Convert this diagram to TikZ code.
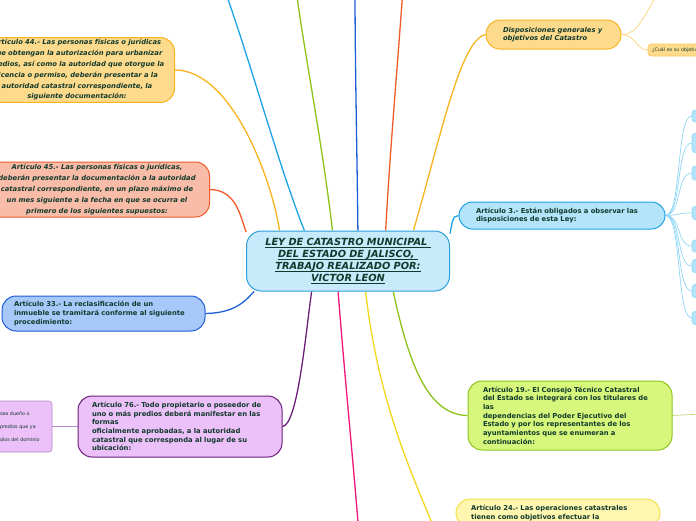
\documentclass[tikz,border=0pt]{standalone}
\usepackage{fontspec}
\setmainfont{DejaVu Sans}
\usetikzlibrary{positioning, backgrounds}

\definecolor{txt}{HTML}{123A2C}
\definecolor{cenfill}{HTML}{C8EAFB}
\definecolor{cendraw}{HTML}{2A9FDC}
\definecolor{ambfill}{HTML}{FEDA8C}
\definecolor{ambdraw}{HTML}{F8B41E}
\definecolor{salfill}{HTML}{F8BCA8}
\definecolor{saldraw}{HTML}{F15A29}
\definecolor{bluefill}{HTML}{A8C8FA}
\definecolor{bluedraw}{HTML}{1F5FD6}
\definecolor{lilfill}{HTML}{ECC0F8}
\definecolor{lildraw}{HTML}{6B1F7A}
\definecolor{lilchild}{HTML}{B98CCB}
\definecolor{skyfill}{HTML}{B4E4FA}
\definecolor{skydraw}{HTML}{1CA3E5}
\definecolor{skychild}{HTML}{8FD6F5}
\definecolor{limefill}{HTML}{D7F77C}
\definecolor{limedraw}{HTML}{8EC31F}
\definecolor{yelfill}{HTML}{FFF6B0}
\definecolor{yeldraw}{HTML}{F4E04A}
\definecolor{pinkline}{HTML}{F0157A}
\definecolor{greenline}{HTML}{8CC21A}
\definecolor{yelline}{HTML}{F2D81E}

% thin underline close to the baseline
\newcommand\ulin[1]{\leavevmode{\setbox0\hbox{#1}\rlap{\vrule height -1.1pt depth 1.8pt width \wd0}\box0}}

\begin{document}
\begin{tikzpicture}[x=1pt, y=-1pt,
                central/.style={draw=cendraw, fill=cenfill, rectangle, rounded corners=15pt, line width=1pt, align=center, text=txt, text width=191pt, inner xsep=6pt, minimum height=60pt, font=\bfseries\itshape\fontsize{9.8}{12}\selectfont},
                topic/.style={rectangle, rounded corners=14pt, line width=1pt, align=left, text=txt, inner ysep=2pt, font=\bfseries\fontsize{6.8}{8.7}\selectfont},
                itopic/.style={topic, align=center, font=\bfseries\itshape\fontsize{6.8}{10.8}\selectfont},
                leaf/.style={rectangle, rounded corners=3pt, line width=0.6pt, align=left, text=txt, inner ysep=1pt, font=\fontsize{4.8}{13}\selectfont},
                branch/.style={line width=1.3pt},
                twig/.style={line width=0.7pt}
            ]
            \useasboundingbox (0,0) rectangle (696,520);
            \clip (0,0) rectangle (696,520);

            % loose ends outside the frame
            \coordinate (topblue) at (224,-12);
            \coordinate (topgreen) at (296,-12);
            \coordinate (topdark) at (355,-12);
            \coordinate (topred) at (403,-12);
            \coordinate (botpink) at (359,535);
            \coordinate (botyellow) at (437,535);
            \coordinate (dispup) at (662,-12);
            \coordinate (a19out) at (720,413);

            % Nodes
            \node[central] (ley) at (348,261) {\ulin{LEY DE CATASTRO MUNICIPAL\ }\\ \ulin{DEL ESTADO DE JALISCO,\ }\\ \ulin{TRABAJO REALIZADO POR:}\\ \ulin{VICTOR LEON}};

            \node[itopic, draw=ambdraw, fill=ambfill, text width=183pt, inner xsep=6pt, minimum height=64pt] (art44) at (77,70) {Artículo 44.- Las personas físicas o jurídicas\\ que obtengan la autorización para urbanizar\\ predios, así como la autoridad que otorgue la\\ licencia o permiso, deberán presentar a la\\ autoridad catastral correspondiente, la\\ siguiente documentación:};
            \node[itopic, draw=saldraw, fill=salfill, text width=213pt, inner xsep=6pt, minimum height=55pt] (art45) at (97,189.5) {Artículo 45.- Las personas físicas o jurídicas,\\ deberán presentar la documentación a la autoridad\\ catastral correspondiente, en un plazo máximo de\\ un mes siguiente a la fecha en que se ocurra el\\ primero de los siguientes supuestos:};
            \node[topic, draw=bluedraw, fill=bluefill, text width=179pt, inner xsep=12pt, minimum height=35pt] (art33) at (103.5,313.5) {Artículo 33.- La reclasificación de un\\ inmueble se tramitará conforme al siguiente\\ procedimiento:};
            \node[topic, draw=lildraw, fill=lilfill, text width=176pt, inner xsep=14pt, minimum height=61pt] (art76) at (180,426.5) {Artículo 76.- Todo propietario o poseedor de\\ uno o más predios deberá manifestar en las\\ formas\\ oficialmente aprobadas, a la autoridad\\ catastral que corresponda al lugar de su\\ ubicación:};
            \node[leaf, draw=lilchild, fill=lilfill, text width=48pt, inner xsep=4pt, minimum height=51pt] (a76sub) at (24,426.5) {sea dueño o\\ predios que ya\\ dios del dominio};

            \node[topic, font=\bfseries\itshape\fontsize{6.8}{8.7}\selectfont, draw=ambdraw, fill=ambfill, text width=101pt, inner xsep=17pt, minimum height=29pt] (disp) at (553.5,34.5) {Disposiciones generales y\\ objetivos del Catastro};
            \node[leaf, draw=ambdraw!70, fill=ambfill, text width=74pt, inner xsep=4pt, minimum height=12pt, font=\fontsize{4.8}{6}\selectfont] (dispq) at (689,50) {¿Cuál es su objetivo?};

            \node[topic, draw=skydraw, fill=skyfill, text width=172pt, inner xsep=17pt, minimum height=27pt, rounded corners=13.5pt] (art3) at (562,215.5) {Artículo 3.- Están obligados a observar las\\ disposiciones de esta Ley:};
            \node[topic, draw=limedraw, fill=limefill, text width=174pt, inner xsep=15pt, minimum height=69pt] (art19) at (570,415.5) {Artículo 19.- El Consejo Técnico Catastral\\ del Estado se integrará con los titulares de\\ las\\ dependencias del Poder Ejecutivo del\\ Estado y por los representantes de los\\ ayuntamientos que se enumeran a\\ continuación:};
            \node[topic, draw=yeldraw, fill=yelfill, text width=174pt, inner xsep=15pt, minimum height=28pt] (art24) at (558,513) {Artículo 24.- Las operaciones catastrales\\ tienen como objetivos efectuar la};

            % leaves of Articulo 3
            \foreach \i/\yy/\hh in {1/116/12, 2/143/19, 3/173/14, 4/213/13, 5/246/12, 6/266/13, 7/291/13, 8/318/13}
                \node[leaf, draw=skychild, fill=skyfill, minimum width=40pt, minimum height=\hh pt] (a3leaf\i) at (712,\yy) {};

            % Edges
            \begin{scope}[on background layer]
            \draw[branch, skydraw] (ley.145) .. controls (280,170) and (250,60) .. (topblue);
            \draw[branch, greenline] (ley.117) .. controls (322,140) and (302,40) .. (topgreen);
            \draw[branch, bluedraw] (ley.72) .. controls (357,150) and (355,60) .. (topdark);
            \draw[branch, saldraw] (ley.39) .. controls (390,150) and (398,60) .. (topred);
            \draw[branch, ambdraw] (ley.25) .. controls (440,140) and (460,40) .. (disp.west);
            \draw[branch, skydraw] (ley.15) .. controls (452,225) and (452,215) .. (art3.west);
            \draw[branch, ambdraw] (art44.east) .. controls (232,70) and (272,180) .. (ley.156);
            \draw[branch, saldraw] (art45.east) .. controls (236,190) and (240,215) .. (ley.164);
            \draw[branch, bluedraw] (art33.east) .. controls (236,313) and (246,300) .. (ley.198);
            \draw[branch, lildraw] (art76.east) .. controls (298,425) and (306,330) .. (ley.220);
            \draw[branch, pinkline] (ley.252) .. controls (345,380) and (354,470) .. (botpink);
            \draw[branch, yelline] (ley.300) .. controls (378,400) and (410,470) .. (botyellow);
            \draw[branch, greenline] (ley.326) .. controls (410,370) and (430,415) .. (art19.west);
            \draw[twig, lilchild] (a76sub.east) -- (art76.west);
            \draw[twig, limedraw!60] (art19.east) -- (a19out);
            \draw[twig, ambdraw!60] (disp.east) .. controls (640,35) and (645,10) .. (dispup);
            \draw[twig, ambdraw!60] (disp.east) .. controls (636,35) and (636,50) .. (dispq.west);
            \foreach \i/\yy in {1/116, 2/143, 3/173, 4/213, 5/246, 6/266, 7/291, 8/318}
                \draw[twig, skychild] (art3.east) .. controls (682,215) and (676,\yy) .. (a3leaf\i.west);
            \end{scope}
\end{tikzpicture}
\end{document}
